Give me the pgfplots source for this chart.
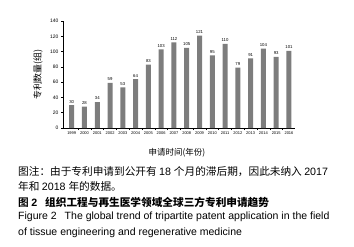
\documentclass[border=0pt]{standalone}
\usepackage{fontspec}
\setmainfont{Liberation Sans}
\newfontfamily\cjk{Noto Sans CJK SC}
\newfontfamily\cjkb{Noto Sans CJK SC Bold}
\usepackage{pgfplots}
\pgfplotsset{compat=1.18}
\definecolor{bargray}{HTML}{7D7D7D}
\begin{document}
\begin{tikzpicture}[x=1bp,y=1bp]
\useasboundingbox (0,0) rectangle (354,-247);
\begin{axis}[
  at={(63bp,-128bp)}, anchor=south west,
  scale only axis, width=232bp, height=107bp,
  axis lines=left, axis line style={-, line width=0.5pt},
  xmin=-0.68, xmax=17.47, ymin=0, ymax=140,
  ytick={0,20,...,140},
  xtick={0,...,17},
  xticklabels={1999,2000,2001,2002,2003,2004,2005,2006,2007,2008,2009,2010,2011,2012,2013,2014,2015,2016},
  major x tick style={draw=none},
  minor xtick={0.5,1.5,...,17.5},
  minor tick length=2bp,
  major tick length=2bp,
  tick align=outside,
  tick style={black, line width=0.5pt},
  x tick label style={font=\fontsize{4}{4}\selectfont, yshift=1.5bp},
  y tick label style={font=\fontsize{5}{5}\selectfont, xshift=1bp},
  /pgf/number format/assume math mode=true,
  ybar, bar width=5bp,
  nodes near coords,
  every node near coord/.append style={font=\fontsize{4.3}{4.3}\selectfont, yshift=-1.5bp},
  xlabel={\cjk 申请时间(年份)},
  xlabel style={at={(axis description cs:0.5,0)}, anchor=center, yshift=-25bp, xshift=-2bp, font=\fontsize{8.5}{8.5}\selectfont},
  ylabel={\cjk 专利数量(组)},
  ylabel style={at={(axis description cs:-0.108,0.5)}, anchor=center, rotate=0, font=\fontsize{9}{9}\selectfont},
]
\addplot[fill=bargray, draw=none] coordinates {
(0,30) (1,28) (2,34) (3,59) (4,53) (5,64) (6,83) (7,103) (8,112)
(9,105) (10,121) (11,95) (12,110) (13,79) (14,91) (15,104) (16,93) (17,101)};
\end{axis}
\begin{scope}[every node/.style={anchor=west, inner sep=0pt}]
\node[font=\fontsize{10.7}{10.7}\selectfont] at (18,-171.5) {\cjk 图注：由于专利申请到公开有 \rmfamily 18 \cjk 个月的滞后期，因此未纳入 \rmfamily 2017};
\node[font=\fontsize{10.7}{10.7}\selectfont] at (18,-186.5) {\cjk 年和 \rmfamily 2018 \cjk 年的数据。};
\node[font=\fontsize{10.7}{10.7}\selectfont] at (18,-202) {\cjkb 图 \rmfamily\bfseries 2\hspace{8bp}\cjkb 组织工程与再生医学领域全球三方专利申请趋势};
\node[font=\fontsize{10.55}{10.55}\selectfont] at (18,-217) {Figure 2\hspace{8bp}The global trend of tripartite patent application in the field};
\node[font=\fontsize{10.55}{10.55}\selectfont] at (18,-232.5) {of tissue engineering and regenerative medicine};
\end{scope}
\end{tikzpicture}
\end{document}
